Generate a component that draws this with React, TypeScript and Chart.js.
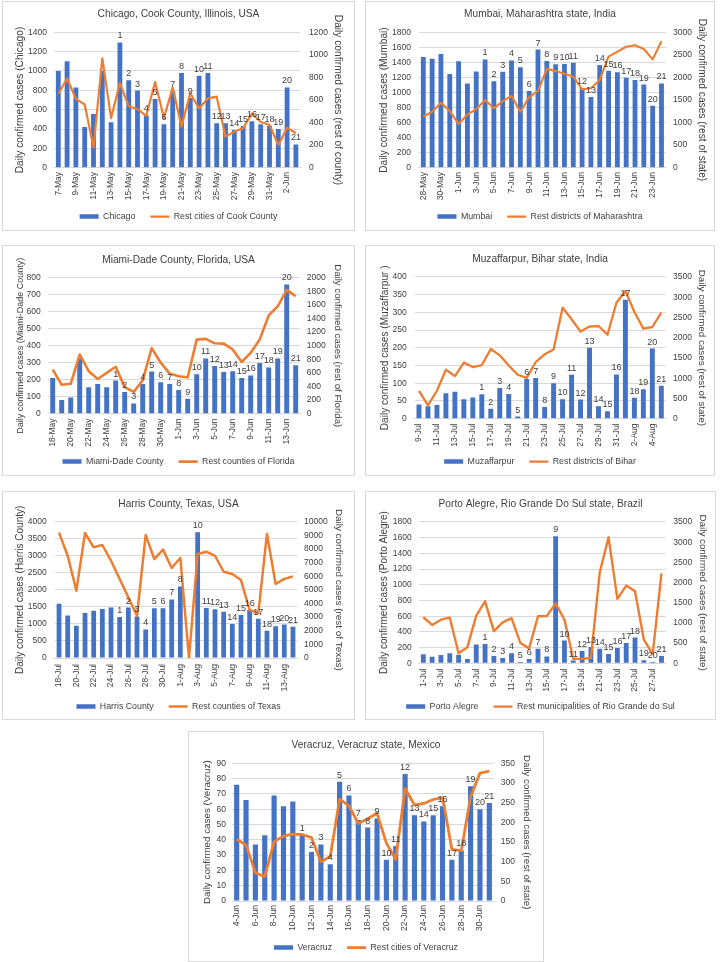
import React, { useEffect, useRef } from "react";
import { Chart, registerables } from "chart.js";

Chart.register(...registerables);

const FONT = '"Liberation Sans", Arial, Helvetica, sans-serif';
const TEXT = "#404040";
const BLUE = "#4472C4";
const ORANGE = "#ED7D31";
const GRID = "#D9D9D9";

// ---------------- data ----------------
const chicagoDates = ["7-May","8-May","9-May","10-May","11-May","12-May","13-May","14-May","15-May","16-May","17-May","18-May","19-May","20-May","21-May","22-May","23-May","24-May","25-May","26-May","27-May","28-May","29-May","30-May","31-May","1-Jun","2-Jun","3-Jun"];
const chicagoCity = [1000, 1100, 830, 420, 555, 1000, 470, 1295, 903, 797, 540, 710, 450, 790, 980, 720, 950, 980, 460, 460, 390, 430, 480, 450, 435, 400, 830, 240];
const chicagoRest = [655, 790, 610, 560, 180, 970, 440, 750, 545, 520, 460, 760, 440, 710, 365, 660, 525, 615, 630, 275, 320, 350, 480, 405, 380, 200, 355, 305];
const chicagoTags = [null, null, null, null, null, null, null, 1, 2, 3, 4, 5, 6, 7, 8, 9, 10, 11, 12, 13, 14, 15, 16, 17, 18, 19, 20, 21];

const mumbaiDates = ["28-May","29-May","30-May","31-May","1-Jun","2-Jun","3-Jun","4-Jun","5-Jun","6-Jun","7-Jun","8-Jun","9-Jun","10-Jun","11-Jun","12-Jun","13-Jun","14-Jun","15-Jun","16-Jun","17-Jun","18-Jun","19-Jun","20-Jun","21-Jun","22-Jun","23-Jun","24-Jun"];
const mumbaiCity = [1470, 1450, 1510, 1245, 1415, 1120, 1280, 1440, 1150, 1275, 1425, 1335, 1020, 1570, 1420, 1375, 1380, 1395, 1060, 940, 1365, 1290, 1270, 1195, 1165, 1105, 825, 1120];
const mumbaiRest = [1130, 1240, 1440, 1255, 970, 1180, 1295, 1500, 1315, 1475, 1590, 1240, 1560, 1705, 2190, 2140, 2080, 2020, 1735, 1760, 1945, 2460, 2570, 2680, 2715, 2630, 2400, 2800];
const mumbaiTags = [null, null, null, null, null, null, null, 1, 2, 3, 4, 5, 6, 7, 8, 9, 10, 11, 12, 13, 14, 15, 16, 17, 18, 19, 20, 21];

const miamiDates = ["18-May","19-May","20-May","21-May","22-May","23-May","24-May","25-May","26-May","27-May","28-May","29-May","30-May","31-May","1-Jun","2-Jun","3-Jun","4-Jun","5-Jun","6-Jun","7-Jun","8-Jun","9-Jun","10-Jun","11-Jun","12-Jun","13-Jun","14-Jun"];
const miamiCounty = [210, 80, 95, 325, 155, 175, 155, 195, 128, 60, 175, 248, 185, 175, 140, 88, 232, 325, 280, 245, 250, 210, 225, 298, 272, 325, 760, 285];
const miamiRest = [650, 425, 440, 870, 625, 510, 600, 690, 390, 320, 490, 965, 750, 590, 550, 535, 1090, 1100, 1035, 1030, 945, 760, 895, 1090, 1445, 1580, 1820, 1730];
const miamiTags = [null, null, null, null, null, null, null, 1, 2, 3, 4, 5, 6, 7, 8, 9, 10, 11, 12, 13, 14, 15, 16, 17, 18, 19, 20, 21];

const muzDates = ["9-Jul","10-Jul","11-Jul","12-Jul","13-Jul","14-Jul","15-Jul","16-Jul","17-Jul","18-Jul","19-Jul","20-Jul","21-Jul","22-Jul","23-Jul","24-Jul","25-Jul","26-Jul","27-Jul","28-Jul","29-Jul","30-Jul","31-Jul","1-Aug","2-Aug","3-Aug","4-Aug","5-Aug"];
const muzCity = [40, 35, 39, 72, 76, 55, 60, 69, 28, 87, 70, 6, 112, 115, 33, 100, 55, 124, 54, 200, 35, 21, 125, 336, 59, 83, 198, 93];
const muzRest = [685, 330, 690, 1210, 1050, 1385, 1275, 1325, 1720, 1565, 1315, 1085, 1010, 1400, 1590, 1710, 2745, 2455, 2155, 2275, 2290, 2075, 2865, 3155, 2635, 2225, 2265, 2620];
const muzTags = [null, null, null, null, null, null, null, 1, 2, 3, 4, 5, 6, 7, 8, 9, 10, 11, 12, 13, 14, 15, 16, 17, 18, 19, 20, 21];

const harrisDates = ["18-Jul","19-Jul","20-Jul","21-Jul","22-Jul","23-Jul","24-Jul","25-Jul","26-Jul","27-Jul","28-Jul","29-Jul","30-Jul","31-Jul","1-Aug","2-Aug","3-Aug","4-Aug","5-Aug","6-Aug","7-Aug","8-Aug","9-Aug","10-Aug","11-Aug","12-Aug","13-Aug","14-Aug"];
const harrisCounty = [1590, 1245, 950, 1320, 1390, 1440, 1480, 1205, 1480, 1220, 840, 1460, 1460, 1720, 2100, null, 3690, 1470, 1430, 1360, 1000, 1260, 1410, 1150, 800, 930, 980, 920];
const harrisRest = [9200, 7500, 4940, 9170, 8120, 8290, 7140, 5800, 4450, 3100, 9020, 7260, 7950, 6600, 7340, 0, 7630, 7800, 7500, 6330, 6160, 5720, 3520, 3280, 9100, 5430, 5800, 5990];
const harrisTags = [null, null, null, null, null, null, null, 1, 2, 3, 4, 5, 6, 7, 8, 9, 10, 11, 12, 13, 14, 15, 16, 17, 18, 19, 20, 21];

const portoDates = ["1-Jul","2-Jul","3-Jul","4-Jul","5-Jul","6-Jul","7-Jul","8-Jul","9-Jul","10-Jul","11-Jul","12-Jul","13-Jul","14-Jul","15-Jul","16-Jul","17-Jul","18-Jul","19-Jul","20-Jul","21-Jul","22-Jul","23-Jul","24-Jul","25-Jul","26-Jul","27-Jul","28-Jul"];
const portoCity = [115, 85, 105, 128, 110, 55, 240, 245, 93, 68, 127, 17, 55, 185, 88, 1620, 290, 35, 158, 208, 185, 120, 195, 258, 328, 38, 17, 93];
const portoRest = [1140, 950, 1080, 1130, 250, 400, 1180, 1535, 795, 1015, 1120, 505, 370, 1165, 1170, 1485, 1080, 110, 110, 130, 2250, 3120, 1595, 1925, 1785, 585, 230, 2230];
const portoTags = [null, null, null, null, null, null, null, 1, 2, 3, 4, 5, 6, 7, 8, 9, 10, 11, 12, 13, 14, 15, 16, 17, 18, 19, 20, 21];

const veraDates = ["4-Jun","5-Jun","6-Jun","7-Jun","8-Jun","9-Jun","10-Jun","11-Jun","12-Jun","13-Jun","14-Jun","15-Jun","16-Jun","17-Jun","18-Jun","19-Jun","20-Jun","21-Jun","22-Jun","23-Jun","24-Jun","25-Jun","26-Jun","27-Jun","28-Jun","29-Jun","30-Jun","1-Jul"];
const veraCity = [76, 66, 37, 43, 69, 62, 65, 43, 32, 37, 24, 78, 69, 53, 48, 54, 27, 36, 83, 56, 52, 56, 62, 27, 33, 75, 60, 64];
const veraRest = [157, 142, 72, 62, 151, 165, 170, 169, 161, 100, 113, 259, 242, 197, 209, 223, 147, 106, 286, 244, 248, 258, 263, 131, 128, 265, 325, 330];
const veraTags = [null, null, null, null, null, null, null, 1, 2, 3, 4, 5, 6, 7, 8, 9, 10, 11, 12, 13, 14, 15, 16, 17, 18, 19, 20, 21];

// ---------------- panel definitions ----------------
type Geo = {
  box: [number, number, number, number];
  titleCy: number; plotTop: number; plotBottom: number; plotLeft: number; plotRight: number;
  leftTickRight: number; leftTitleCx: number; rightTickLeft: number; rightTitleCx: number;
  legendCy: number; xLabelTop: number;
};

type PanelDef = {
  title: string; leftTitle: string; rightTitle: string; barLabel: string; lineLabel: string;
  dates: string[]; bars: (number | null)[]; line: number[]; tags: (number | null)[];
  leftMax: number; leftStep: number; rightMax: number; rightStep: number;
  lineWidth: number; leftTitleSize: number; rightTitleSize: number; geo: Geo;
};

const panels: PanelDef[] = [
  {
    title: "Chicago, Cook County, Illinois, USA",
    leftTitle: "Daily confirmed cases (Chicago)", rightTitle: "Daily confirmed cases (rest of county)",
    barLabel: "Chicago", lineLabel: "Rest cities of Cook County",
    dates: chicagoDates, bars: chicagoCity, line: chicagoRest, tags: chicagoTags,
    leftMax: 1400, leftStep: 200, rightMax: 1200, rightStep: 200,
    lineWidth: 2.2, leftTitleSize: 10.2, rightTitleSize: 10.2,
    geo: { box: [2, 1, 353, 230], titleCy: 14, plotTop: 32.3, plotBottom: 167.7, plotLeft: 53.9, plotRight: 300.3,
      leftTickRight: 47, leftTitleCx: 20, rightTickLeft: 309, rightTitleCx: 338, legendCy: 217, xLabelTop: 172 },
  },
  {
    title: "Mumbai, Maharashtra state, India",
    leftTitle: "Daily confirmed cases (Mumbai)", rightTitle: "Daily confirmed cases (rest of state)",
    barLabel: "Mumbai", lineLabel: "Rest districts of Maharashtra",
    dates: mumbaiDates, bars: mumbaiCity, line: mumbaiRest, tags: mumbaiTags,
    leftMax: 1800, leftStep: 200, rightMax: 3000, rightStep: 500,
    lineWidth: 2.1, leftTitleSize: 10.2, rightTitleSize: 10.2,
    geo: { box: [365, 1, 350, 230], titleCy: 14, plotTop: 32.3, plotBottom: 167.7, plotLeft: 418.9, plotRight: 665.9,
      leftTickRight: 411, leftTitleCx: 384, rightTickLeft: 673, rightTitleCx: 702, legendCy: 217, xLabelTop: 172 },
  },
  {
    title: "Miami-Dade County, Florida, USA",
    leftTitle: "Daily confirmed cases (Miami-Dade County)", rightTitle: "Daily confirmed cases (rest of Florida)",
    barLabel: "Miami-Dade County", lineLabel: "Rest counties of Florida",
    dates: miamiDates, bars: miamiCounty, line: miamiRest, tags: miamiTags,
    leftMax: 800, leftStep: 100, rightMax: 2000, rightStep: 200,
    lineWidth: 2.6, leftTitleSize: 9, rightTitleSize: 9.7,
    geo: { box: [2, 245, 353, 231], titleCy: 260, plotTop: 277.7, plotBottom: 413.7, plotLeft: 48.2, plotRight: 300.2,
      leftTickRight: 40.7, leftTitleCx: 20.7, rightTickLeft: 306.7, rightTitleCx: 338, legendCy: 462, xLabelTop: 418.5 },
  },
  {
    title: "Muzaffarpur, Bihar state, India",
    leftTitle: "Daily confirmed cases (Muzaffarpur )", rightTitle: "Daily confirmed cases (rest of state)",
    barLabel: "Muzaffarpur", lineLabel: "Rest districts of Bihar",
    dates: muzDates, bars: muzCity, line: muzRest, tags: muzTags,
    leftMax: 400, leftStep: 50, rightMax: 3500, rightStep: 500,
    lineWidth: 2.3, leftTitleSize: 10.1, rightTitleSize: 9.8,
    geo: { box: [365, 245, 350, 231], titleCy: 258.7, plotTop: 277, plotBottom: 418.7, plotLeft: 414.5, plotRight: 665.8,
      leftTickRight: 406.7, leftTitleCx: 385, rightTickLeft: 673, rightTitleCx: 701.7, legendCy: 462, xLabelTop: 423.5 },
  },
  {
    title: "Harris County, Texas, USA",
    leftTitle: "Daily confirmed cases (Harris County)", rightTitle: "Daily confirmed cases (rest of Texas)",
    barLabel: "Harris County", lineLabel: "Rest counties of Texas",
    dates: harrisDates, bars: harrisCounty, line: harrisRest, tags: harrisTags,
    leftMax: 4000, leftStep: 500, rightMax: 10000, rightStep: 1000,
    lineWidth: 2.5, leftTitleSize: 10, rightTitleSize: 9.9,
    geo: { box: [2, 491, 353, 229], titleCy: 504, plotTop: 521.7, plotBottom: 658, plotLeft: 54.7, plotRight: 297.3,
      leftTickRight: 46.7, leftTitleCx: 20, rightTickLeft: 304, rightTitleCx: 338.3, legendCy: 707, xLabelTop: 664 },
  },
  {
    title: "Porto Alegre, Rio Grande Do Sul state, Brazil",
    leftTitle: "Daily confirmed cases (Porto Alegre)", rightTitle: "Daily confirmed cases (rest of state)",
    barLabel: "Porto Alegre", lineLabel: "Rest municipalities of Rio Grande do Sul",
    dates: portoDates, bars: portoCity, line: portoRest, tags: portoTags,
    leftMax: 1800, leftStep: 200, rightMax: 3500, rightStep: 500,
    lineWidth: 2.4, leftTitleSize: 10, rightTitleSize: 9.8,
    geo: { box: [365, 491, 351, 229], titleCy: 504, plotTop: 522, plotBottom: 663.3, plotLeft: 418.9, plotRight: 665.9,
      leftTickRight: 411.7, leftTitleCx: 384, rightTickLeft: 673.3, rightTitleCx: 702.7, legendCy: 707, xLabelTop: 668.5 },
  },
  {
    title: "Veracruz, Veracruz state, Mexico",
    leftTitle: "Daily confirmed cases (Veracruz)", rightTitle: "Daily confirmed cases (rest of state)",
    barLabel: "Veracruz", lineLabel: "Rest cities of Veracruz",
    dates: veraDates, bars: veraCity, line: veraRest, tags: veraTags,
    leftMax: 90, leftStep: 10, rightMax: 350, rightStep: 50,
    lineWidth: 2.8, leftTitleSize: 9.8, rightTitleSize: 9.7,
    geo: { box: [188, 731, 356, 231], titleCy: 745, plotTop: 763.3, plotBottom: 901, plotLeft: 232, plotRight: 494,
      leftTickRight: 226, leftTitleCx: 207.3, rightTickLeft: 500.7, rightTitleCx: 526.7, legendCy: 947.7, xLabelTop: 905 },
  },
];

// ---------------- styling constants ----------------
const TITLE_SIZE = 10.2;
const TICK_SIZE = 8.5;
const LEG_SIZE = 8.8;
const LEG_PAD = 15;
const TAG_SIZE = 9;

const plainNumber = (v: any) => String(v);

function Panel({ p }: { p: PanelDef }) {
  const ref = useRef<HTMLCanvasElement | null>(null);
  const g = p.geo;
  const cl = g.box[0] + 1;
  const ct = g.box[1] + 1;
  const cw = g.box[2] - 2;

  const titleLH = TITLE_SIZE * 1.2;
  const titlePadTop = g.titleCy - ct - titleLH / 2;
  const titlePadBot = g.plotTop - ct - titlePadTop - titleLH;
  const legH = LEG_SIZE + LEG_PAD + 10;
  const legTopWanted = g.legendCy - ct - LEG_PAD - LEG_SIZE / 2;
  const ch = Math.round(legTopWanted + legH);
  const legTop = ch - legH;
  const xH = legTop - (g.plotBottom - ct);
  const xPad = g.xLabelTop - g.plotBottom;
  const leftW = g.plotLeft - cl;
  const rightW = cw - (g.plotRight - cl);
  const leftTickPad = g.plotLeft - g.leftTickRight;
  const rightTickPad = g.rightTickLeft - g.plotRight;
  const leftTitlePad = g.leftTitleCx - cl - (p.leftTitleSize * 1.2) / 2;
  const rightTitlePad = cl + cw - g.rightTitleCx - (p.rightTitleSize * 1.2) / 2;

  useEffect(() => {
    if (!ref.current) return;
    const tagPlugin = {
      id: "barTags",
      afterLayout(chart: any) {
        // let the rotated date labels run into the (empty) top padding of the legend
        const xs = chart.scales.x;
        xs.bottom = chart.height;
        xs.height = xs.bottom - xs.top;
      },
      afterDatasetsDraw(chart: any) {
        const meta = chart.getDatasetMeta(1);
        const ctx = chart.ctx;
        ctx.save();
        ctx.font = `${TAG_SIZE}px ${FONT}`;
        ctx.fillStyle = TEXT;
        ctx.textAlign = "center";
        ctx.textBaseline = "bottom";
        meta.data.forEach((el: any, i: number) => {
          const t = p.tags[i];
          if (t === null || t === undefined) return;
          if (p.bars[i] === null || p.bars[i] === undefined) return;
          ctx.fillText(String(t), el.x, el.y - 2);
        });
        ctx.restore();
      },
    };

    const chart = new Chart(ref.current, {
      type: "bar",
      data: {
        labels: p.dates,
        datasets: [
          {
            type: "line",
            label: p.lineLabel,
            data: p.line,
            yAxisID: "y1",
            borderColor: ORANGE,
            backgroundColor: ORANGE,
            borderWidth: p.lineWidth,
            pointRadius: 0,
            pointHoverRadius: 0,
            pointStyle: "line",
            tension: 0,
            borderJoinStyle: "round",
          } as any,
          {
            type: "bar",
            label: p.barLabel,
            data: p.bars,
            yAxisID: "y",
            backgroundColor: BLUE,
            borderWidth: 0,
            barPercentage: 0.55,
            categoryPercentage: 1,
            pointStyle: "rect",
          } as any,
        ],
      },
      options: {
        animation: false,
        responsive: false,
        maintainAspectRatio: false,
        events: [],
        layout: { padding: 0 },
        plugins: {
          title: {
            display: true,
            text: p.title,
            color: TEXT,
            font: { family: FONT, size: TITLE_SIZE, weight: "normal" },
            padding: { top: titlePadTop, bottom: titlePadBot },
          },
          legend: {
            display: true,
            position: "bottom",
            reverse: true,
            labels: {
              usePointStyle: true,
              pointStyleWidth: 19,
              boxHeight: 4.5,
              padding: LEG_PAD,
              color: TEXT,
              font: { family: FONT, size: LEG_SIZE },
            },
          },
          tooltip: { enabled: false },
        },
        scales: {
          x: {
            type: "category",
            offset: true,
            grid: { display: false, drawTicks: false },
            border: { display: true, color: GRID, width: 1 },
            ticks: {
              autoSkip: false,
              minRotation: 90,
              maxRotation: 90,
              padding: xPad,
              color: TEXT,
              font: { family: FONT, size: TICK_SIZE },
              callback: function (this: any, v: any, i: number) {
                return i % 2 === 0 ? this.getLabelForValue(v) : "";
              },
            },
            afterFit: (s: any) => { s.height = xH; },
          },
          y: {
            type: "linear",
            position: "left",
            min: 0,
            max: p.leftMax,
            grid: { color: GRID, lineWidth: 1, drawTicks: false },
            border: { display: false },
            ticks: {
              stepSize: p.leftStep,
              padding: leftTickPad,
              color: TEXT,
              font: { family: FONT, size: TICK_SIZE },
              callback: plainNumber,
            },
            title: {
              display: true,
              text: p.leftTitle,
              color: TEXT,
              font: { family: FONT, size: p.leftTitleSize },
              padding: { top: leftTitlePad, bottom: 0 },
            },
            afterFit: (s: any) => { s.width = leftW; },
          },
          y1: {
            type: "linear",
            position: "right",
            min: 0,
            max: p.rightMax,
            grid: { display: false, drawTicks: false },
            border: { display: false },
            ticks: {
              stepSize: p.rightStep,
              padding: rightTickPad,
              color: TEXT,
              font: { family: FONT, size: TICK_SIZE },
              callback: plainNumber,
            },
            title: {
              display: true,
              text: p.rightTitle,
              color: TEXT,
              font: { family: FONT, size: p.rightTitleSize },
              padding: { top: rightTitlePad, bottom: 0 },
            },
            afterFit: (s: any) => { s.width = rightW; },
          },
        },
      } as any,
      plugins: [tagPlugin],
    });
    return () => chart.destroy();
  }, []);

  return (
    <>
      <canvas
        ref={ref}
        width={cw}
        height={ch}
        style={{ position: "absolute", left: cl, top: ct, width: cw, height: ch }}
      />
      <div
        style={{
          position: "absolute",
          left: g.box[0],
          top: g.box[1],
          width: g.box[2],
          height: g.box[3],
          border: `1px solid ${GRID}`,
          boxSizing: "border-box",
          pointerEvents: "none",
        }}
      />
    </>
  );
}

export default function App() {
  Chart.defaults.font.family = FONT;
  return (
    <div style={{ position: "absolute", left: 0, top: 0, width: 720, height: 962, background: "#fff", overflow: "hidden" }}>
      {panels.map((p, i) => (
        <Panel key={i} p={p} />
      ))}
    </div>
  );
}
